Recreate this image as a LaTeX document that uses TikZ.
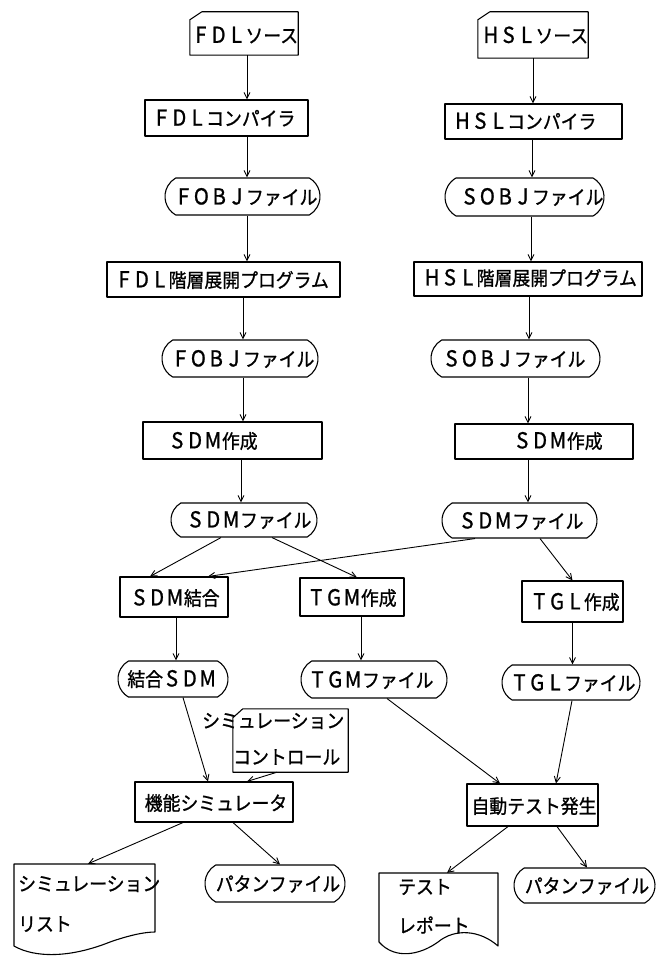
\documentclass[tikz,border=0pt]{standalone}
\usepackage{fontspec}
\newfontfamily\jp[FakeStretch=0.92,FakeBold=1]{Noto Sans CJK JP}
\usetikzlibrary{arrows.meta,shapes.misc}
\newcommand\fwl[1]{\makebox[17.85pt][c]{\fontsize{22}{22}\selectfont #1}}
\tikzset{
  shp/.style={draw, line width=1.1pt, line join=round},
  boxn/.style={shp, rectangle, inner sep=0pt},
  ghost/.style={rectangle, inner sep=0pt, draw=none},
  term/.style={shp, rounded rectangle, rounded rectangle arc length=120, inner sep=0pt},
  lbl/.style={inner sep=0pt, font=\jp\fontsize{19.4}{21}\selectfont},
  arr/.style={line width=0.9pt, -{Straight Barb[length=6pt,width=6pt]}},
}
\begin{document}
\begin{tikzpicture}[x=1pt,y=-1pt]
\useasboundingbox (0,0) rectangle (661,958);

% ---- left column shapes
\node[ghost, minimum width=108, minimum height=43] (fdls) at (244,33.5) {};
\node[boxn, minimum width=163, minimum height=36] (fdlc) at (226.5,118) {};
\node[term, minimum width=155, minimum height=37] (fobj1) at (242.5,196.5) {};
\node[boxn, minimum width=233, minimum height=35] (fdlh) at (223.5,279.5) {};
\node[term, minimum width=156, minimum height=37] (fobj2) at (240,358.5) {};
\node[boxn, minimum width=179, minimum height=37] (sdm1) at (232.5,440.5) {};
\node[term, minimum width=146, minimum height=34] (sdmf1) at (244,520) {};
\node[boxn, minimum width=108, minimum height=40] (sdmk) at (174,597) {};
\node[boxn, minimum width=104, minimum height=38] (tgm) at (352,597) {};
\node[term, minimum width=110, minimum height=36] (ksdm) at (173,679) {};
\node[term, minimum width=146, minimum height=37] (tgmf) at (374,679.5) {};
\node[ghost, minimum width=115, minimum height=63] (simc) at (290.5,740.5) {};
\node[boxn, minimum width=158, minimum height=40] (kinou) at (214,802) {};
\node[ghost, minimum width=141, minimum height=69] (slist) at (84.5,898.5) {};
\node[term, minimum width=140, minimum height=37] (pat1) at (275,883.5) {};

% ---- right column shapes
\node[ghost, minimum width=110, minimum height=46] (hsls) at (533,35) {};
\node[boxn, minimum width=177, minimum height=35] (hslc) at (533.5,121.5) {};
\node[term, minimum width=159, minimum height=38] (sobj1) at (524.5,197) {};
\node[boxn, minimum width=228, minimum height=34] (hslh) at (528,279) {};
\node[term, minimum width=169, minimum height=37] (sobj2) at (515.5,358.5) {};
\node[boxn, minimum width=178, minimum height=35] (sdm2) at (544,441.5) {};
\node[term, minimum width=155, minimum height=35] (sdmf2) at (519.5,520.5) {};
\node[boxn, minimum width=101, minimum height=41] (tgl) at (572.5,601.5) {};
\node[term, minimum width=138, minimum height=35] (tglf) at (571,682.5) {};
\node[boxn, minimum width=131, minimum height=42] (jido) at (532.5,805) {};
\node[ghost, minimum width=119, minimum height=73] (rep) at (438.5,909.5) {};
\node[term, minimum width=141, minimum height=35] (pat2) at (584.5,885.5) {};

% ---- cards (cut top-left corner)
\draw[shp] ([xshift=12pt]fdls.north west) -- (fdls.north east) -- (fdls.south east)
  -- (fdls.south west) -- ([yshift=-8pt]fdls.north west) -- cycle;
\draw[shp] ([xshift=12pt]hsls.north west) -- (hsls.north east) -- (hsls.south east)
  -- (hsls.south west) -- ([yshift=-8pt]hsls.north west) -- cycle;
\draw[shp] ([xshift=10pt]simc.north west) -- (simc.north east) -- (simc.south east)
  -- (simc.south west) -- ([yshift=-9pt]simc.north west) -- cycle;

% ---- documents (wavy bottom)
\draw[shp] (14,946) -- (14,864) -- (155,864) -- (155,932)
  .. controls (145,932) and (130,935) .. (110,942)
  .. controls (70,958) and (35,958) .. (14,946) -- cycle;
\draw[shp] (379,942) -- (379,873) -- (498,873) -- (498,946)
  .. controls (480,930) and (455,928) .. (438,942)
  .. controls (420,955) and (395,960) .. (379,942) -- cycle;

% ---- labels
\node[lbl] (t-fdls) at (245,35) {\fwl{F}\fwl{D}\fwl{L}ソース};
\node[lbl] (t-fdlc) at (224,118) {\fwl{F}\fwl{D}\fwl{L}コンパイラ};
\node[lbl] (t-fobj1) at (246,197) {\fwl{F}\fwl{O}\fwl{B}\fwl{J}ファイル};
\node[lbl] (t-fdlh) at (222,280) {\fwl{F}\fwl{D}\fwl{L}階層展開プログラム};
\node[lbl] (t-fobj2) at (243,359) {\fwl{F}\fwl{O}\fwl{B}\fwl{J}ファイル};
\node[lbl] (t-sdm1) at (213,441) {\fwl{S}\fwl{D}\fwl{M}作成};
\node[lbl] (t-sdmf1) at (249,520) {\fwl{S}\fwl{D}\fwl{M}ファイル};
\node[lbl] (t-sdmk) at (175,598) {\fwl{S}\fwl{D}\fwl{M}結合};
\node[lbl] (t-tgm) at (352,598) {\fwl{T}\fwl{G}\fwl{M}作成};
\node[lbl] (t-ksdm) at (172,679) {結合\fwl{S}\fwl{D}\fwl{M}};
\node[lbl] (t-tgmf) at (371,680) {\fwl{T}\fwl{G}\fwl{M}ファイル};
\node[lbl, anchor=west] (t-simc1) at (202,721) {シミュレーション};
\node[lbl, anchor=west] (t-simc2) at (233,757) {コントロール};
\node[lbl] (t-kinou) at (216,803) {機能シミュレータ};
\node[lbl, anchor=west] (t-sl1) at (18,884) {シミュレーション};
\node[lbl, anchor=west] (t-sl2) at (18,924) {リスト};
\node[lbl] (t-pat1) at (278,884) {パタンファイル};

\node[lbl] (t-hsls) at (535,35) {\fwl{H}\fwl{S}\fwl{L}ソース};
\node[lbl] (t-hslc) at (525,121) {\fwl{H}\fwl{S}\fwl{L}コンパイラ};
\node[lbl] (t-sobj1) at (532,197) {\fwl{S}\fwl{O}\fwl{B}\fwl{J}ファイル};
\node[lbl] (t-hslh) at (530,278) {\fwl{H}\fwl{S}\fwl{L}階層展開プログラム};
\node[lbl] (t-sobj2) at (514,359) {\fwl{S}\fwl{O}\fwl{B}\fwl{J}ファイル};
\node[lbl] (t-sdm2) at (558,441) {\fwl{S}\fwl{D}\fwl{M}作成};
\node[lbl] (t-sdmf2) at (521,521) {\fwl{S}\fwl{D}\fwl{M}ファイル};
\node[lbl] (t-tgl) at (575,602) {\fwl{T}\fwl{G}\fwl{L}作成};
\node[lbl] (t-tglf) at (573,683) {\fwl{T}\fwl{G}\fwl{L}ファイル};
\node[lbl] (t-jido) at (534,806) {自動テスト発生};
\node[lbl, anchor=west] (t-rep1) at (398,887) {テスト};
\node[lbl, anchor=west] (t-rep2) at (398,925) {レポート};
\node[lbl] (t-pat2) at (587,886) {パタンファイル};

% ---- connectors, left column
\draw[arr] ([xshift=3pt]fdls.south) -- ([xshift=20.5pt]fdlc.north);
\draw[arr] ([xshift=20.5pt]fdlc.south) -- ([xshift=4.5pt]fobj1.north);
\draw[arr] ([xshift=4.5pt]fobj1.south) -- ([xshift=23.5pt]fdlh.north);
\draw[arr] ([xshift=19.5pt]fdlh.south) -- ([xshift=3pt]fobj2.north);
\draw[arr] ([xshift=3pt]fobj2.south) -- ([xshift=10.5pt]sdm1.north);
\draw[arr] ([xshift=8.5pt]sdm1.south) -- ([xshift=-3pt]sdmf1.north);
\draw[arr] ([xshift=-23pt]sdmf1.south) -- ([xshift=-24pt]sdmk.north);
\draw[arr] ([xshift=28pt]sdmf1.south) -- ([xshift=5pt]tgm.north);
\draw[arr] ([xshift=-44.5pt]sdmf2.south) -- ([xshift=34pt]sdmk.north);
\draw[arr] ([xshift=2pt]sdmk.south) -- ([xshift=3pt]ksdm.north);
\draw[arr] ([xshift=9pt]tgm.south) -- ([xshift=-13pt]tgmf.north);
\draw[arr] ([xshift=10pt]ksdm.south) -- ([xshift=-6pt]kinou.north);
\draw[arr] ([xshift=-13.5pt]simc.south) -- ([xshift=33pt]kinou.north);
\draw[arr] ([xshift=13pt]tgmf.south) -- ([xshift=-32.5pt]jido.north);
\draw[arr] ([xshift=1pt]tglf.south) -- ([xshift=23.5pt]jido.north);
\draw[arr] ([xshift=-31pt]kinou.south) -- ([xshift=3.5pt]slist.north);
\draw[arr] ([xshift=19pt]kinou.south) -- ([xshift=5pt]pat1.north);
\draw[arr] ([xshift=-24.5pt]jido.south) -- ([xshift=8.5pt]rep.north);
\draw[arr] ([xshift=24.5pt]jido.south) -- ([xshift=2.5pt]pat2.north);

% ---- connectors, right column
\draw[arr] (hsls.south) -- ([xshift=-0.5pt]hslc.north);
\draw[arr] ([xshift=-1.5pt]hslc.south) -- ([xshift=7.5pt]sobj1.north);
\draw[arr] ([xshift=6.5pt]sobj1.south) -- ([xshift=3pt]hslh.north);
\draw[arr] ([xshift=1pt]hslh.south) -- ([xshift=13.5pt]sobj2.north);
\draw[arr] ([xshift=12.5pt]sobj2.south) -- ([xshift=-16pt]sdm2.north);
\draw[arr] ([xshift=-16pt]sdm2.south) -- ([xshift=8.5pt]sdmf2.north);
\draw[arr] ([xshift=20.5pt]sdmf2.south) -- (tgl.north);
\draw[arr] (tgl.south) -- ([xshift=1.5pt]tglf.north);
\end{tikzpicture}
\end{document}
